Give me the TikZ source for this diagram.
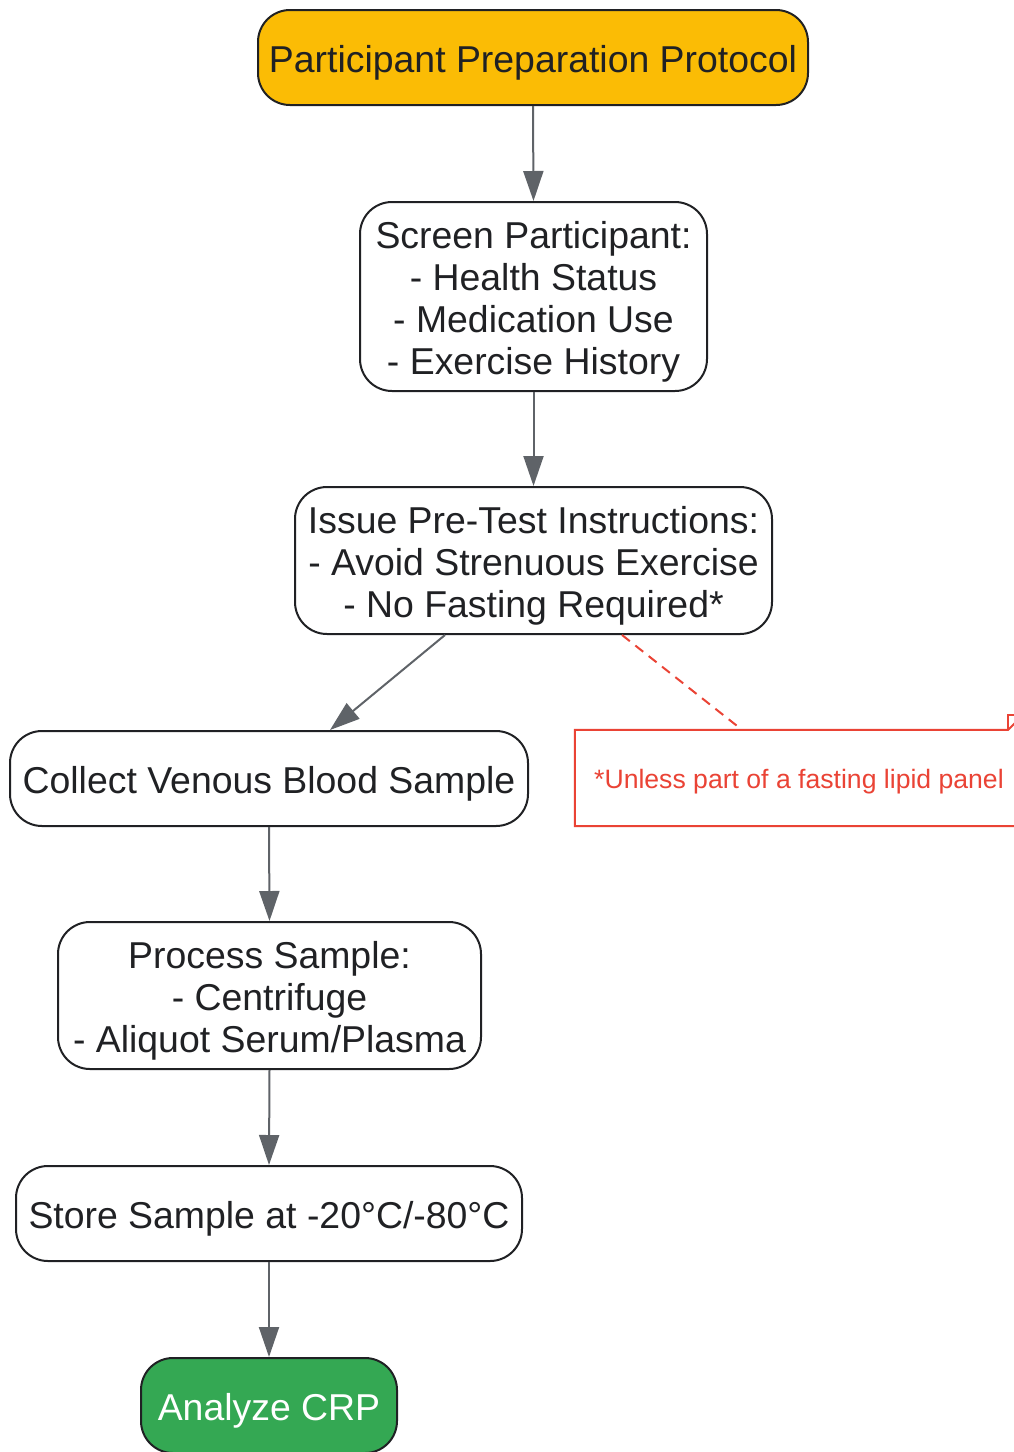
\documentclass[tikz,border=0pt]{standalone}
\usepackage{fontspec}
\setmainfont{Liberation Sans}
\usetikzlibrary{arrows.meta}
\definecolor{nodeyellow}{HTML}{FBBC05}
\definecolor{nodegreen}{HTML}{34A853}
\definecolor{notered}{HTML}{EA4335}
\definecolor{edgegray}{HTML}{5F6368}
\definecolor{inkdark}{HTML}{202124}
\newcommand{\boxlines}[1]{\raisebox{-7pt}[\height][\depth]{\begin{tabular}{@{}c@{}}#1\end{tabular}}}
\begin{document}
\begin{tikzpicture}[x=1pt,y=-1pt,
  box/.style={draw=inkdark, line width=2pt, rounded corners=32pt, fill=white,
    inner sep=0pt, text=inkdark,
    font=\fontsize{37.4}{42}\selectfont},
  flow/.style={draw=edgegray, line width=2pt, -{Triangle[length=30pt,width=20pt]}},
  notebox/.style={inner sep=0pt, minimum width=448pt, minimum height=96pt,
    text=notered, font=\fontsize{26.6}{30}\selectfont},
]
\useasboundingbox (0,0) rectangle (1014,1452);
\clip (0,0) rectangle (1014,1452);

\node[box, fill=nodeyellow, minimum width=550pt, minimum height=95pt] (top) at (533,57.5) {\boxlines{Participant Preparation Protocol}};
\node[box, minimum width=347pt, minimum height=189pt] (screen) at (533.5,296.5) {\boxlines{Screen Participant:\\- Health Status\\- Medication Use\\- Exercise History}};
\node[box, minimum width=477pt, minimum height=147pt] (issue) at (533.5,560.5) {\boxlines{Issue Pre-Test Instructions:\\- Avoid Strenuous Exercise\\- No Fasting Required*}};
\node[box, minimum width=518pt, minimum height=95pt] (collect) at (269,778.5) {\boxlines{Collect Venous Blood Sample}};
\node[notebox] (note) at (799,778) {};
\node[box, minimum width=423pt, minimum height=147pt] (process) at (269.5,995.5) {\boxlines{Process Sample:\\- Centrifuge\\- Aliquot Serum/Plasma}};
\node[box, minimum width=506pt, minimum height=95pt] (store) at (269,1213.5) {\boxlines{Store Sample at -20°C/-80°C}};
\node[box, fill=nodegreen, text=white, minimum width=256pt, minimum height=95pt] (analyze) at (269,1405.5) {\boxlines{Analyze CRP}};

% note shape with folded corner
\draw[notered, line width=2pt, fill=white]
  (note.north west) -- ([xshift=-15pt]note.north east) -- ([yshift=15pt]note.north east)
  -- (note.south east) -- (note.south west) -- cycle;
\draw[notered, line width=2pt]
  ([xshift=-15pt]note.north east) -- ([xshift=-15pt,yshift=15pt]note.north east) -- ([yshift=15pt]note.north east);
\node[notebox] (notetext) at (note.center) {\raisebox{-4pt}[\height][\depth]{*Unless part of a fasting lipid panel}};

\draw[flow] (top.south) -- (screen.north);
\draw[flow] (screen.south) -- (issue.north);
\draw[flow] ([xshift=-88.5pt]issue.south) -- ([xshift=61pt]collect.north);
\draw[notered, line width=2pt, dash pattern=on 10pt off 7pt] ([xshift=88.5pt]issue.south) -- ([xshift=-57pt]note.north);
\draw[flow] (collect.south) -- (process.north);
\draw[flow] (process.south) -- (store.north);
\draw[flow] (store.south) -- (analyze.north);
\end{tikzpicture}
\end{document}
